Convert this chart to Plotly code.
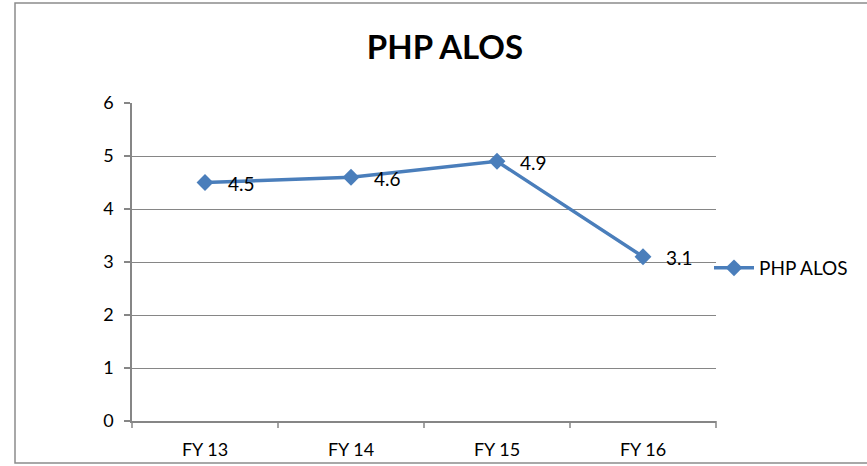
import plotly.graph_objects as go

categories = ["FY 13", "FY 14", "FY 15", "FY 16"]
values = [4.5, 4.6, 4.9, 3.1]
series_name = "PHP ALOS"
title_text = "PHP ALOS"

W, H = 867, 466
L, R, T, B = 132, 716, 103, 421

def px_x(x):
    return (x - L) / (R - L)

def px_y(y):
    return (B - y) / (B - T)

fig = go.Figure()
fig.add_trace(go.Scatter(
    x=categories, y=values, name=series_name,
    mode="lines+markers",
    line=dict(color="#4A7EBB", width=3.5),
    marker=dict(symbol="diamond", size=13, color="#4A7EBB"),
    cliponaxis=False,
))

for c, v in zip(categories, values):
    fig.add_annotation(x=c, y=v, text=str(v), showarrow=False,
                       xanchor="left", yanchor="middle", xshift=21, yshift=-1,
                       font=dict(family="Lato", size=19, color="#000000"))

fig.update_layout(
    width=W, height=H,
    margin=dict(l=L, r=W - R, t=T, b=H - B, autoexpand=False),
    paper_bgcolor="white", plot_bgcolor="white",
    font=dict(family="Lato", size=18, color="#000000"),
    title=dict(text="<b>" + title_text + "</b>", x=px_x(445), xanchor="center",
               xref="paper", y=1 - 47 / H, yanchor="middle",
               font=dict(family="Lato", size=33, color="#000000")),
    showlegend=True,
    legend=dict(x=px_x(709), y=px_y(268), xanchor="left", yanchor="middle",
                font=dict(family="Lato", size=19, color="#000000"),
                bgcolor="rgba(0,0,0,0)", itemwidth=40),
    xaxis=dict(
        type="category", range=[-0.5, 3.5],
        showgrid=False, showline=True, linecolor="#868686", linewidth=1.5,
        ticks="", tickfont=dict(family="Lato", size=18),
        ticklabelstandoff=12,
        fixedrange=True,
    ),
    yaxis=dict(
        range=[0, 6], dtick=1, tickvals=[0, 1, 2, 3, 4, 5, 6],
        showgrid=True, gridcolor="#868686", gridwidth=1,
        showline=True, linecolor="#868686", linewidth=1.5,
        ticks="outside", ticklen=6, tickcolor="#868686", tickwidth=1.5,
        tickfont=dict(family="Lato", size=18), zeroline=False,
        ticklabelstandoff=7,
        fixedrange=True,
    ),
)

# category boundary tick marks below the x-axis
for i in range(len(categories) + 1):
    xv = px_x(L + i * (R - L) / len(categories))
    fig.add_shape(type="line", xref="paper", yref="paper",
                  x0=xv, x1=xv, y0=0, y1=px_y(B + 7),
                  line=dict(color="#868686", width=1.5))

# outer chart border
fig.add_shape(type="rect", xref="paper", yref="paper",
              x0=px_x(15), x1=px_x(870), y0=px_y(463), y1=px_y(3),
              line=dict(color="#8C8C8C", width=1.5), fillcolor="rgba(0,0,0,0)")

fig.write_html("out.html", config={"displayModeBar": False},
               post_script="document.body.style.margin='0';document.body.style.overflow='hidden';")
